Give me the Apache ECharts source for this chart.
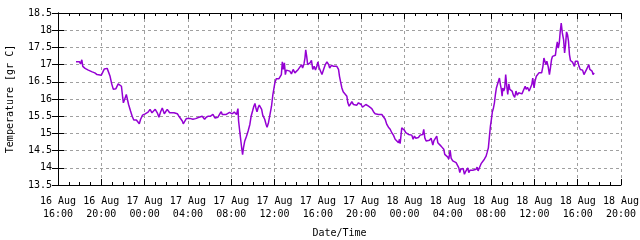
<!DOCTYPE html>
<html>
<head>
<meta charset="utf-8">
<script src="https://cdn.jsdelivr.net/npm/echarts@6/dist/echarts.min.js"></script>
<style>html,body{margin:0;padding:0;background:#fff}#c{width:640px;height:240px}</style>
</head>
<body>
<div id="c"></div>
<script>
// hours since 16 Aug 16:00
var hours = [
1.66,1.99,2.08,2.14,2.2,2.29,2.5,2.8,3.16,3.4,3.61,3.79,4.0,4.18,4.27,4.39,4.54,4.66,4.81,4.96,5.11,5.35,5.56,5.74,5.86,5.98,6.04,6.16,6.31,6.4,6.52,6.7,6.85,7.0,7.24,7.42,7.51,7.63,7.81,8.05,8.32,8.5,8.68,8.86,8.98,
9.02,9.17,9.32,9.48,9.63,9.72,9.82,9.94,10.09,10.18,10.31,10.49,10.71,10.86,11.02,11.17,11.32,11.48,11.57,11.72,11.85,12.0,12.25,12.46,12.71,12.86,13.02,13.17,13.32,13.54,13.69,13.88,14.09,14.31,14.49,14.62,14.77,14.95,15.08,15.17,15.32,15.54,15.72,15.85,16.09,16.28,16.49,16.62,16.68,16.8,16.89,16.98,
17.05,
17.13,17.25,17.41,17.56,17.72,17.84,17.97,18.09,18.19,18.28,18.38,18.5,18.59,18.69,18.81,18.91,19.0,19.09,19.22,19.31,19.44,19.59,19.72,19.84,19.94,20.03,20.16,20.28,20.41,20.53,20.63,20.72,20.81,20.91,21.0,21.09,21.25,21.41,21.56,21.72,21.88,22.03,22.19,22.34,22.5,22.59,22.72,22.81,22.88,22.97,23.06,23.16,23.28,23.41,23.53,23.66,23.78,23.91,24.0,24.13,24.28,24.38,24.53,24.69,24.84,25.0,25.09,25.25,25.41,
25.45,25.6,25.75,25.91,26.0,26.12,26.22,26.34,26.52,26.68,26.77,26.89,27.02,27.14,27.29,27.45,27.6,27.75,27.88,28.0,28.12,28.28,28.43,28.55,28.68,28.83,28.98,29.14,29.29,29.45,29.6,29.75,29.91,30.06,30.22,30.37,30.52,30.68,30.83,30.98,31.14,31.29,31.45,31.54,31.6,31.69,31.75,31.85,32.0,32.12,32.25,32.37,32.52,32.68,32.8,32.92,33.05,33.17,33.29,33.45,33.54,
33.69,33.78,33.88,34.0,34.15,34.31,34.46,34.62,34.71,34.86,34.98,35.08,35.23,35.38,35.54,35.63,35.72,35.85,36.0,36.09,36.22,36.31,36.46,36.62,36.77,36.92,37.02,37.11,37.2,37.29,37.42,37.54,37.63,37.75,37.85,37.94,38.06,38.22,38.31,38.46,38.62,38.71,38.8,38.92,39.08,39.23,39.38,39.54,39.63,39.75,39.85,39.94,40.03,40.12,40.22,40.31,40.4,40.49,40.58,40.68,40.77,40.86,40.95,41.02,41.08,41.17,41.26,41.35,41.45,41.54,
41.64,41.73,41.82,41.94,42.06,42.18,42.3,42.42,42.55,42.7,42.85,43.0,43.15,43.24,43.36,43.52,43.64,43.76,43.85,43.97,44.06,44.18,44.3,44.42,44.55,44.67,44.79,44.88,44.97,45.06,45.15,45.27,45.39,45.48,45.58,45.67,45.79,45.94,46.03,46.12,46.21,46.3,46.39,46.48,46.58,46.7,46.79,46.88,46.97,47.06,47.15,47.24,47.33,47.42,47.52,47.61,47.7,47.79,47.88,48.0,48.12,48.24,48.36,48.45,48.58,48.7,48.82,48.91,49.03,49.12,49.21,49.33,49.42,49.52
];
var temps = [
17.08,17.08,17.02,16.98,17.14,16.95,16.89,16.84,16.79,16.76,16.71,16.74,16.69,16.81,16.87,16.84,16.89,16.86,16.66,16.44,16.28,16.30,16.44,16.44,16.37,16.03,15.89,15.99,16.13,16.18,15.84,15.65,15.50,15.39,15.39,15.36,15.28,15.41,15.53,15.57,15.62,15.70,15.60,15.62,15.70,
15.70,15.60,15.47,15.63,15.74,15.76,15.57,15.63,15.70,15.72,15.60,15.61,15.60,15.57,15.57,15.50,15.47,15.36,15.28,15.29,15.43,15.45,15.43,15.41,15.43,15.41,15.47,15.48,15.50,15.41,15.47,15.50,15.50,15.55,15.45,15.41,15.47,15.57,15.63,15.55,15.50,15.55,15.50,15.61,15.57,15.62,15.55,15.72,15.36,15.02,14.78,14.54,
14.38,
14.58,14.78,14.92,15.07,15.26,15.50,15.65,15.79,15.87,15.74,15.63,15.76,15.82,15.79,15.70,15.53,15.57,15.41,15.26,15.18,15.31,15.57,15.79,16.11,16.30,16.47,16.59,16.63,16.59,16.57,16.71,17.08,16.86,17.05,16.71,16.84,16.81,16.81,16.73,16.86,16.76,16.81,16.86,16.90,17.0,16.90,17.02,17.19,17.43,17.24,17.0,16.95,17.05,17.12,16.86,16.95,16.84,16.95,17.08,16.90,16.86,16.71,16.86,17.0,17.08,17.0,16.90,16.98,17.0,
16.95,16.90,16.95,16.86,16.66,16.47,16.32,16.21,16.18,16.08,15.89,15.79,15.84,15.92,15.84,15.89,15.82,15.89,15.92,15.84,15.76,15.79,15.84,15.86,15.79,15.74,15.72,15.63,15.57,15.53,15.55,15.60,15.55,15.50,15.41,15.26,15.18,15.12,15.02,14.95,14.83,14.78,14.73,14.83,14.70,14.97,15.16,15.12,15.09,15.02,15.05,14.97,14.92,14.95,14.83,14.92,14.86,14.83,14.88,14.95,14.95,
14.97,15.12,14.87,14.78,14.83,14.80,14.86,14.66,14.78,14.83,14.92,14.73,14.68,14.63,14.66,14.54,14.39,14.34,14.31,14.25,14.51,14.28,14.20,14.18,14.15,14.10,14.0,13.86,13.96,13.91,13.98,13.81,13.88,13.91,14.0,13.86,13.93,13.89,13.93,13.93,13.96,14.02,13.91,14.0,14.12,14.15,14.25,14.34,14.44,14.58,14.92,15.21,15.41,15.63,15.74,15.89,16.13,16.32,16.37,16.52,16.61,16.42,16.28,16.08,16.32,16.23,16.32,16.71,16.37,16.13,
16.44,16.28,16.32,16.23,16.11,16.05,16.23,16.11,16.18,16.18,16.15,16.18,16.37,16.28,16.34,16.23,16.28,16.42,16.61,16.32,16.52,16.66,16.71,16.76,16.73,16.76,16.95,17.19,17.10,17.0,17.10,16.95,16.71,16.90,17.14,17.24,17.29,17.27,17.5,17.66,17.48,17.63,17.97,18.21,17.92,17.72,17.34,17.58,17.95,17.87,17.68,17.29,17.12,17.10,17.07,17.12,16.95,17.10,17.05,17.10,16.95,16.86,16.81,16.84,16.71,16.76,16.86,16.90,17.0,16.86,16.84,16.81,16.71,16.76
];
var xTickLabels = [
'16 Aug\n16:00','16 Aug\n20:00','17 Aug\n00:00','17 Aug\n04:00','17 Aug\n08:00','17 Aug\n12:00','17 Aug\n16:00',
'17 Aug\n20:00','18 Aug\n00:00','18 Aug\n04:00','18 Aug\n08:00','18 Aug\n12:00','18 Aug\n16:00','18 Aug\n20:00'
];
var xName = 'Date/Time';
var yName = 'Temperature [gr C]';

var FONT = 'DejaVu Sans Mono';
var data = hours.map(function (h, i) { return [h, temps[i]]; });
var chart = echarts.init(document.getElementById('c'), null, {renderer: 'canvas'});
var grid = {left: 58, right: 19, top: 13, bottom: 55, containLabel: false, outerBoundsMode: 'none'};
var axLine = {show: true, lineStyle: {color: '#000', width: 1}};
var split = {show: true, lineStyle: {color: '#a0a0a0', width: 1, type: [3, 3]}};
chart.setOption({
  animation: false,
  backgroundColor: '#fff',
  grid: grid,
  xAxis: [{
    type: 'value', min: 0, max: 52, interval: 4, position: 'bottom',
    name: xName, nameLocation: 'middle', nameGap: 43,
    nameTextStyle: {fontFamily: FONT, fontSize: 10, color: '#000'},
    axisLine: axLine,
    axisTick: {show: true, inside: true, length: 6, lineStyle: {color: '#000'}},
    minorTick: {show: true, splitNumber: 4, length: 3, lineStyle: {color: '#000'}},
    splitLine: split,
    axisLabel: {
      fontFamily: FONT, fontSize: 10, color: '#000', margin: 10, lineHeight: 13,
      showMinLabel: true, showMaxLabel: true,
      formatter: function (v) { return xTickLabels[Math.round(v / 4)]; }
    }
  }, {
    type: 'value', min: 0, max: 52, interval: 4, position: 'top',
    axisLine: axLine,
    axisTick: {show: true, inside: true, length: 6, lineStyle: {color: '#000'}},
    minorTick: {show: true, splitNumber: 4, length: 3, lineStyle: {color: '#000'}},
    splitLine: {show: false}, axisLabel: {show: false}
  }],
  yAxis: [{
    type: 'value', min: 13.5, max: 18.5, interval: 0.5, position: 'left',
    name: yName, nameLocation: 'middle', nameGap: 43, nameRotate: 90,
    nameTextStyle: {fontFamily: FONT, fontSize: 10, color: '#000'},
    axisLine: axLine,
    axisTick: {show: true, inside: true, length: 6, lineStyle: {color: '#000'}},
    splitLine: split,
    axisLabel: {fontFamily: FONT, fontSize: 10, color: '#000', margin: 6}
  }, {
    type: 'value', min: 13.5, max: 18.5, interval: 0.5, position: 'right',
    axisLine: axLine,
    axisTick: {show: true, inside: true, length: 6, lineStyle: {color: '#000'}},
    splitLine: {show: false}, axisLabel: {show: false}
  }],
  series: [{
    type: 'line', data: data, showSymbol: false, symbol: 'none',
    xAxisIndex: 0, yAxisIndex: 0,
    lineStyle: {color: '#9400d3', width: 1.5},
    clip: true
  }]
});
</script>
</body>
</html>
